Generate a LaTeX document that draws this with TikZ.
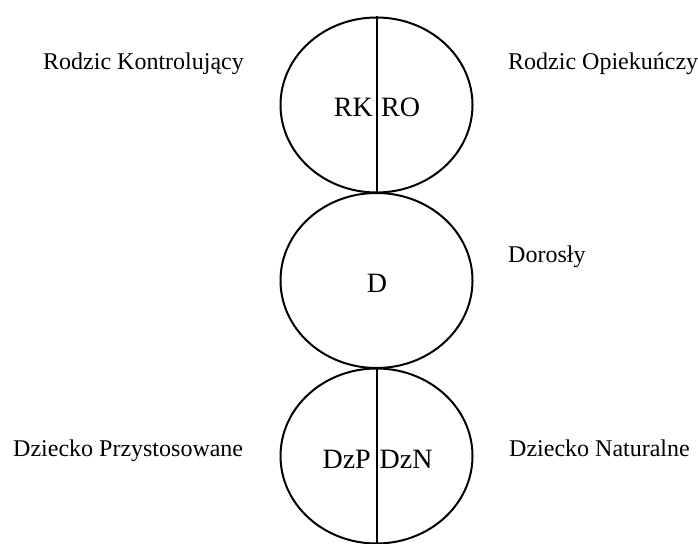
\documentclass[tikz,border=0pt]{standalone}
\usepackage{fontspec}
\setmainfont{Liberation Serif}
\usetikzlibrary{shapes.geometric}
\begin{document}
\begin{tikzpicture}[x=1pt,y=1pt,
  state/.style={ellipse,draw,line width=2pt,minimum width=192pt,minimum height=175pt,inner sep=0pt},
  divider/.style={line width=2pt},
  inner/.style={inner sep=0pt,font=\fontsize{28}{28}\selectfont},
  outer/.style={inner sep=0pt,anchor=base west,font=\fontsize{24}{24}\selectfont}]
\useasboundingbox (0,0) rectangle (698,543);
% the three ego states, stacked
\node[state] (P) at (376.5,438) {};
\node[state] (A) at (376.5,262.5) {};
\node[state] (C) at (376.5,87) {};
% split lines of the parent and child states
\draw[divider] (P.north) -- (P.south);
\draw[divider] (C.north) -- (C.south);
% labels inside the circles
\node[inner,anchor=base east] (rk) at (373,426) {RK};
\node[inner,anchor=base west] (ro) at (381,426) {RO};
\node[inner,anchor=base] (d) at (377,250) {D};
\node[inner,anchor=base east] (dzp) at (371,74) {DzP};
\node[inner,anchor=base west] (dzn) at (379.5,74) {DzN};
% descriptions beside the circles
\node[outer] (lrk) at (43,473) {Rodzic Kontrolujący};
\node[outer] (lro) at (508,473) {Rodzic Opiekuńczy};
\node[outer] (ld) at (508,280) {Dorosły};
\node[outer] (ldzp) at (13,86) {Dziecko Przystosowane};
\node[outer] (ldzn) at (509,86) {Dziecko Naturalne};
\end{tikzpicture}
\end{document}
